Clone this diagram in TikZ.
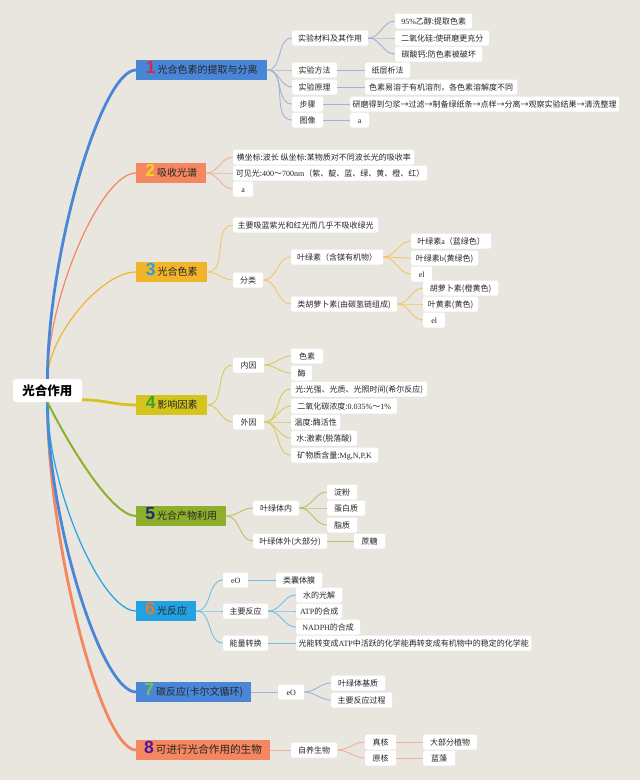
\documentclass[tikz,border=0pt]{standalone}
\usepackage{fontspec}
\setmainfont{Noto Sans CJK SC}
\newfontfamily\lat{Liberation Serif}
\newfontfamily\numfont{Liberation Sans}
\definecolor{bgc}{HTML}{E9E6E0}
\definecolor{txt}{HTML}{262626}
\definecolor{n1c}{HTML}{4A86D8}\definecolor{d1c}{HTML}{D42A48}
\definecolor{n2c}{HTML}{F4875F}\definecolor{d2c}{HTML}{F8D21E}
\definecolor{n3c}{HTML}{F1B52C}\definecolor{d3c}{HTML}{2E9ED8}
\definecolor{n4c}{HTML}{D6C41E}\definecolor{d4c}{HTML}{3C9E2A}
\definecolor{n5c}{HTML}{8DAF2C}\definecolor{d5c}{HTML}{1E2E6E}
\definecolor{n6c}{HTML}{23A2E2}\definecolor{d6c}{HTML}{E87B2C}
\definecolor{n7c}{HTML}{4A86D8}\definecolor{d7c}{HTML}{7CC142}
\definecolor{n8c}{HTML}{F4875F}\definecolor{d8c}{HTML}{4A1A9E}
\definecolor{l1c}{HTML}{9DB4DC}
\definecolor{l2c}{HTML}{F0B09C}
\definecolor{l3c}{HTML}{EEC66A}
\definecolor{l4c}{HTML}{D5CB5A}
\definecolor{l5c}{HTML}{B5C264}
\definecolor{l6c}{HTML}{6EC0E6}
\definecolor{l7c}{HTML}{9DB4DC}
\definecolor{l8c}{HTML}{F0B09C}
\newcommand\dig[2]{{\numfont\bfseries\fontsize{17.5}{17}\selectfont\color{#1}#2}\hspace{2pt}}
\begin{document}
\begin{tikzpicture}[x=1pt,y=-1pt,
  sub/.style={fill=white, rounded corners=2pt, anchor=west, minimum height=15pt, inner xsep=2.5pt, inner ysep=0pt, text height=10.6pt, text depth=4.4pt, font=\fontsize{8}{9}\selectfont, text=txt},
  mainbox/.style={fill=#1, anchor=west, minimum height=20pt, inner xsep=8pt, inner ysep=0pt, text height=13.9pt, text depth=6.1pt, font=\fontsize{10}{12}\selectfont, text=txt},
  rootbox/.style={fill=white, rounded corners=3pt, minimum width=69pt, minimum height=23pt, inner xsep=0pt, inner ysep=0pt, text height=16pt, text depth=7pt, font=\fontsize{12.5}{14}\selectfont\bfseries, text=black},
  sl/.style={draw=#1, line width=0.9pt},
  bl/.style={draw=#1, line width=2.8pt},
  ml/.style={draw=#1, line width=2pt},
  tl/.style={draw=#1, line width=1.2pt}
]
\fill[bgc] (0,0) rectangle (640,780);
\useasboundingbox (0,0) rectangle (640,780);

% root
\node[rootbox] (root) at (47.5,390.5) {光合作用};

% main nodes
\node[mainbox=n1c, minimum width=131pt] (m1) at (136,70) {\dig{d1c}{1}光合色素的提取与分离};
\node[mainbox=n2c, minimum width=70pt] (m2) at (136,173) {\dig{d2c}{2}吸收光谱};
\node[mainbox=n3c, minimum width=71pt] (m3) at (136,272) {\dig{d3c}{3}光合色素};
\node[mainbox=n4c, minimum width=71pt] (m4) at (136,405) {\dig{d4c}{4}影响因素};
\node[mainbox=n5c, minimum width=90pt] (m5) at (136,516) {\dig{d5c}{5}光合产物利用};
\node[mainbox=n6c, minimum width=60pt] (m6) at (136,611) {\dig{d6c}{6}光反应};
\node[mainbox=n7c, minimum width=115pt] (m7) at (136,692) {\dig{d7c}{7}碳反应(卡尔文循环)};
\node[mainbox=n8c, minimum width=128pt, font=\fontsize{10.6}{12}\selectfont] (m8) at (136,750) {\dig{d8c}{8}可进行光合作用的生物};

% branch 1
\node[sub, minimum width=76pt] (a1) at (292,38) {实验材料及其作用};
\node[sub, minimum width=77pt] (a11) at (395,21) {{\lat 95\%}乙醇:提取色素};
\node[sub, minimum width=94pt] (a12) at (395,38) {二氧化硅:使研磨更充分};
\node[sub, minimum width=87pt] (a13) at (395,54) {碳酸钙:防色素被破坏};
\node[sub, minimum width=45pt] (a2) at (292,70) {实验方法};
\node[sub, minimum width=45pt] (a21) at (365,70) {纸层析法};
\node[sub, minimum width=45pt] (a3) at (292,87) {实验原理};
\node[sub, minimum width=152pt] (a31) at (365,87) {色素易溶于有机溶剂，各色素溶解度不同};
\node[sub, minimum width=31pt] (a4) at (292,104) {步骤};
\node[sub, minimum width=265pt] (a41) at (350,104) {研磨得到匀浆→过滤→制备绿纸条→点样→分离→观察实验结果→清洗整理};
\node[sub, minimum width=31pt] (a5) at (292,120) {图像};
\node[sub, minimum width=19pt] (a51) at (350,120) {{\lat a}};

% branch 2
\node[sub, minimum width=181pt] (b1) at (233,157) {横坐标:波长 纵坐标:某物质对不同波长光的吸收率};
\node[sub, minimum width=194pt] (b2) at (233,173) {可见光:{\lat 400}～{\lat 700nm}（紫、靛、蓝、绿、黄、橙、红）};
\node[sub, minimum width=20pt] (b3) at (233,189) {{\lat a}};

% branch 3
\node[sub, minimum width=145pt] (c1) at (233,225) {主要吸蓝紫光和红光而几乎不吸收绿光};
\node[sub, minimum width=30pt] (c2) at (233,280) {分类};
\node[sub, minimum width=92pt] (c21) at (291,257) {叶绿素（含镁有机物）};
\node[sub, minimum width=106pt] (c22) at (291,304) {类胡萝卜素(由碳氢链组成)};
\node[sub, minimum width=80pt] (c211) at (411,241) {叶绿素{\lat a}（蓝绿色）};
\node[sub, minimum width=67pt] (c212) at (411,258) {叶绿素{\lat b}(黄绿色)};
\node[sub, minimum width=21pt] (c213) at (411,274) {{\lat el}};
\node[sub, minimum width=75pt] (c221) at (423,288) {胡萝卜素(橙黄色)};
\node[sub, minimum width=55pt] (c222) at (423,304) {叶黄素(黄色)};
\node[sub, minimum width=22pt] (c223) at (423,320) {{\lat el}};

% branch 4
\node[sub, minimum width=31pt] (d1) at (233,365) {内因};
\node[sub, minimum width=32pt] (d11) at (291,356) {色素};
\node[sub, minimum width=21pt] (d12) at (291,373) {酶};
\node[sub, minimum width=31pt] (d2) at (233,422) {外因};
\node[sub, minimum width=136pt] (d21) at (291,389) {光:光强、光质、光照时间(希尔反应)};
\node[sub, minimum width=106pt] (d22) at (291,406) {二氧化碳浓度:{\lat 0.035\%}～{\lat 1\%}};
\node[sub, minimum width=49pt] (d23) at (291,422) {温度:酶活性};
\node[sub, minimum width=66pt] (d24) at (291,438) {水:激素(脱落酸)};
\node[sub, minimum width=87pt] (d25) at (291,455) {矿物质含量:{\lat Mg,N,P,K}};

% branch 5
\node[sub, minimum width=46pt] (e1) at (253,508) {叶绿体内};
\node[sub, minimum width=30pt] (e11) at (327,492) {淀粉};
\node[sub, minimum width=38pt] (e12) at (327,508) {蛋白质};
\node[sub, minimum width=30pt] (e13) at (327,525) {脂质};
\node[sub, minimum width=74pt] (e2) at (253,541) {叶绿体外(大部分)};
\node[sub, minimum width=31pt] (e21) at (354,541) {蔗糖};

% branch 6
\node[sub, minimum width=25pt] (f1) at (223,580) {{\lat eO}};
\node[sub, minimum width=46pt] (f11) at (276,580) {类囊体膜};
\node[sub, minimum width=45pt] (f2) at (223,611) {主要反应};
\node[sub, minimum width=46pt] (f21) at (296,595) {水的光解};
\node[sub, minimum width=46pt] (f22) at (296,611) {{\lat ATP}的合成};
\node[sub, minimum width=64pt] (f23) at (296,627) {{\lat NADPH}的合成};
\node[sub, minimum width=45pt] (f3) at (223,643) {能量转换};
\node[sub, minimum width=234pt] (f31) at (296,643) {光能转变成{\lat ATP}中活跃的化学能再转变成有机物中的稳定的化学能};

% branch 7
\node[sub, minimum width=26pt] (g1) at (278,692) {{\lat eO}};
\node[sub, minimum width=54pt] (g11) at (331,683) {叶绿体基质};
\node[sub, minimum width=61pt] (g12) at (331,700) {主要反应过程};

% branch 8
\node[sub, minimum width=46pt] (h1) at (291,750) {自养生物};
\node[sub, minimum width=31pt] (h11) at (365,742) {真核};
\node[sub, minimum width=54pt] (h111) at (423,742) {大部分植物};
\node[sub, minimum width=31pt] (h12) at (365,758) {原核};
\node[sub, minimum width=32pt] (h121) at (423,758) {蓝藻};

% root branches
\draw[bl=n8c] (root.south) .. controls +(0,139) and +(-35,0) .. (m8.west);
\draw[bl=n7c] (root.south) .. controls +(0,116) and +(-35,0) .. (m7.west);
\draw[tl=n6c] (root.south) .. controls +(0,84) and +(-35,0) .. (m6.west);
\draw[ml=n5c] (root.south) .. controls +(20,40) and +(-25,0) .. (m5.west);
\draw[tl=n3c] (root.north) .. controls +(0,-42) and +(-35,0) .. (m3.west);
\draw[tl=n2c] (root.north) .. controls +(0,-82) and +(-35,0) .. (m2.west);
\draw[bl=n1c] (root.north) .. controls +(0,-124) and +(-35,0) .. (m1.west);
\draw[bl=n4c] (root.-15) to[out=0,in=180] (m4.west);

% branch 1
\foreach \k in {a1,a2,a3,a4,a5} \draw[sl=l1c] (m1.east) to[out=0,in=180] (\k.west);
\foreach \k in {a11,a12,a13} \draw[sl=l1c] (a1.east) to[out=0,in=180] (\k.west);
\draw[sl=l1c] (a2.east) -- (a21.west);
\draw[sl=l1c] (a3.east) -- (a31.west);
\draw[sl=l1c] (a4.east) -- (a41.west);
\draw[sl=l1c] (a5.east) -- (a51.west);
% branch 2
\foreach \k in {b1,b2,b3} \draw[sl=l2c] (m2.east) to[out=0,in=180] (\k.west);
% branch 3
\foreach \k in {c1,c2} \draw[sl=l3c] (m3.east) to[out=0,in=180] (\k.west);
\foreach \k in {c21,c22} \draw[sl=l3c] (c2.east) to[out=0,in=180] (\k.west);
\foreach \k in {c211,c212,c213} \draw[sl=l3c] (c21.east) to[out=0,in=180] (\k.west);
\foreach \k in {c221,c222,c223} \draw[sl=l3c] (c22.east) to[out=0,in=180] (\k.west);
% branch 4
\foreach \k in {d1,d2} \draw[sl=l4c] (m4.east) to[out=0,in=180] (\k.west);
\foreach \k in {d11,d12} \draw[sl=l4c] (d1.east) to[out=0,in=180] (\k.west);
\foreach \k in {d21,d22,d23,d24,d25} \draw[sl=l4c] (d2.east) to[out=0,in=180] (\k.west);
% branch 5
\foreach \k in {e1,e2} \draw[sl=l5c] (m5.east) to[out=0,in=180] (\k.west);
\foreach \k in {e11,e12,e13} \draw[sl=l5c] (e1.east) to[out=0,in=180] (\k.west);
\draw[sl=l5c] (e2.east) -- (e21.west);
% branch 6
\foreach \k in {f1,f2,f3} \draw[sl=l6c] (m6.east) to[out=0,in=180] (\k.west);
\draw[sl=l6c] (f1.east) -- (f11.west);
\foreach \k in {f21,f22,f23} \draw[sl=l6c] (f2.east) to[out=0,in=180] (\k.west);
\draw[sl=l6c] (f3.east) -- (f31.west);
% branch 7
\draw[sl=l7c] (m7.east) -- (g1.west);
\foreach \k in {g11,g12} \draw[sl=l7c] (g1.east) to[out=0,in=180] (\k.west);
% branch 8
\draw[sl=l8c] (m8.east) -- (h1.west);
\foreach \k in {h11,h12} \draw[sl=l8c] (h1.east) to[out=0,in=180] (\k.west);
\draw[sl=l8c] (h11.east) -- (h111.west);
\draw[sl=l8c] (h12.east) -- (h121.west);
\end{tikzpicture}
\end{document}
